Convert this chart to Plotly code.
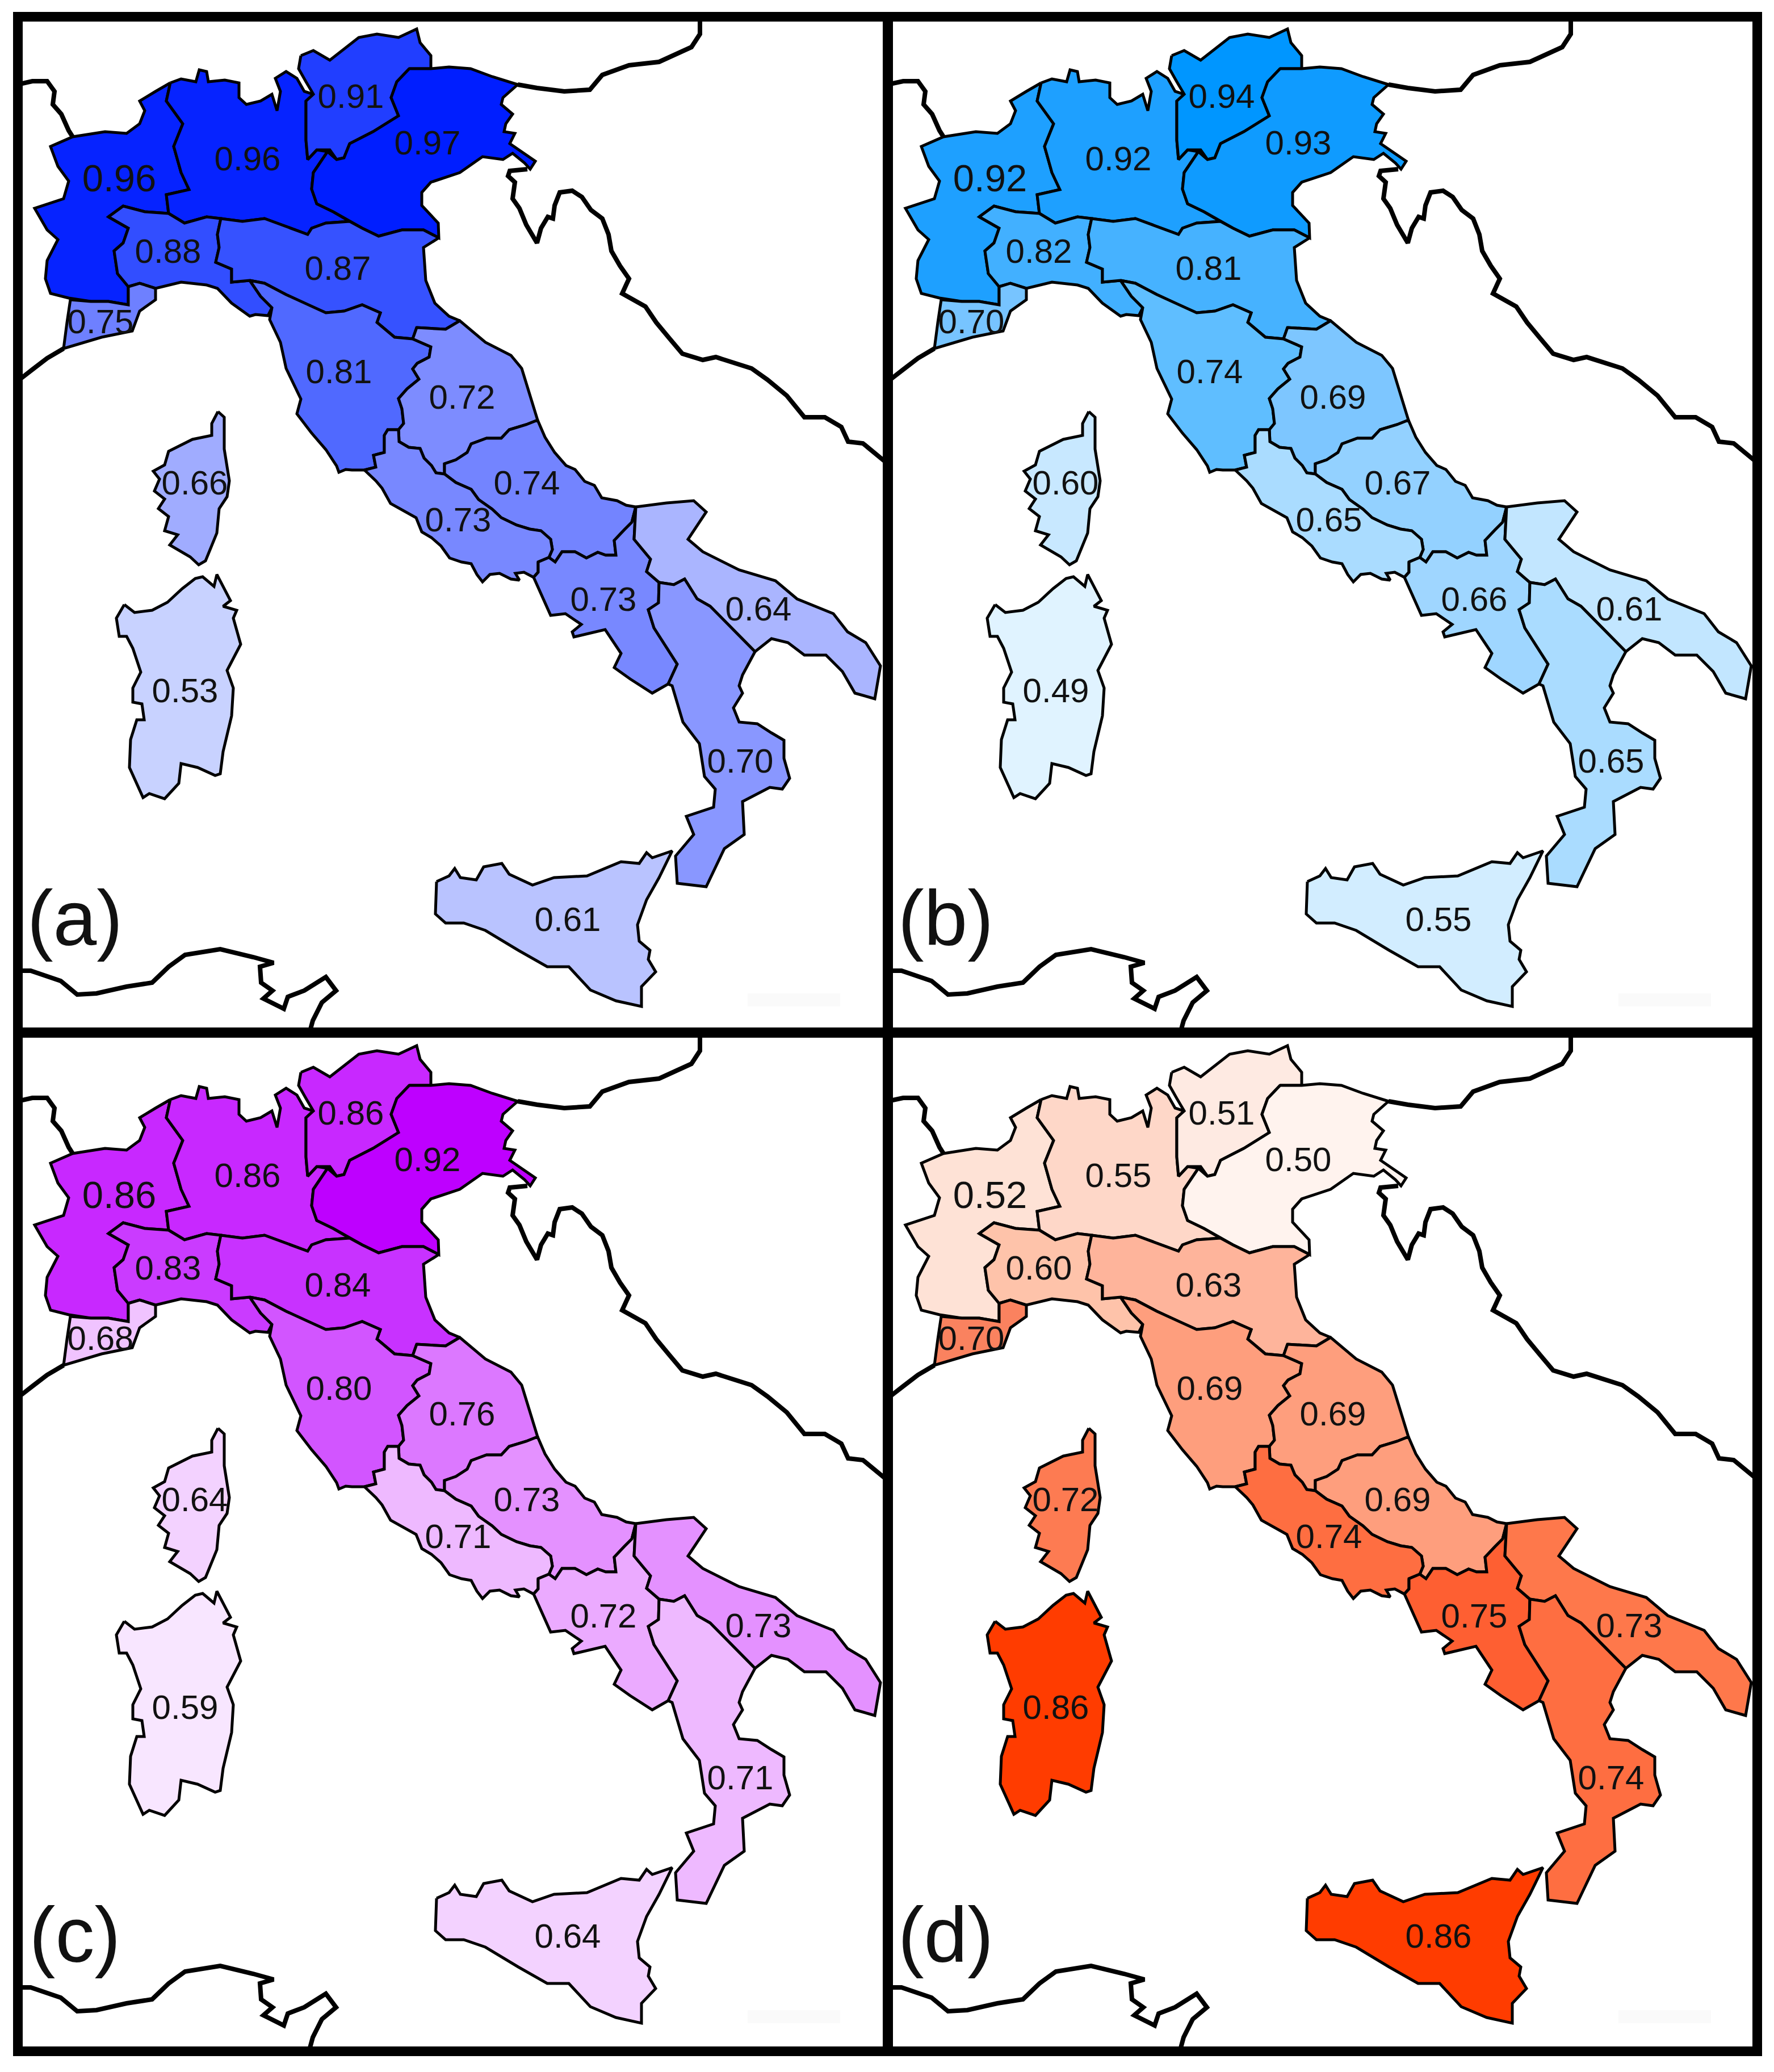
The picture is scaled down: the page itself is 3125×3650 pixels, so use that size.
"""
Four maps of Italy: regional values per panel, colours follow the value.
"""
from plotly.colors import find_intermediate_color
import plotly.graph_objects as go

WIDTH = 3125
HEIGHT = 3650
PAGE_MARGIN = 8  # browser default margin around the plot

PANELS = ["(a)", "(b)", "(c)", "(d)"]
REGIONS = [
    "Piemonte", "Lombardia", "Trentino", "Veneto", "Toscana N", "Emilia", "Liguria",
    "Toscana", "Marche", "Abruzzo", "Lazio", "Corsica", "Sardegna",
    "Campania", "Puglia", "Calabria", "Sicilia",
]
VALUES_A = [0.96, 0.96, 0.91, 0.97, 0.88, 0.87, 0.75, 0.81, 0.72, 0.74, 0.73, 0.66, 0.53, 0.73, 0.64, 0.70, 0.61]
VALUES_B = [0.92, 0.92, 0.94, 0.93, 0.82, 0.81, 0.70, 0.74, 0.69, 0.67, 0.65, 0.60, 0.49, 0.66, 0.61, 0.65, 0.55]
VALUES_C = [0.86, 0.86, 0.86, 0.92, 0.83, 0.84, 0.68, 0.80, 0.76, 0.73, 0.71, 0.64, 0.59, 0.72, 0.73, 0.71, 0.64]
VALUES_D = [0.52, 0.55, 0.51, 0.50, 0.60, 0.63, 0.70, 0.69, 0.69, 0.69, 0.74, 0.72, 0.86, 0.75, 0.73, 0.74, 0.86]

LABEL_X = [210, 436, 618, 753, 296, 595, 177, 597, 814, 928, 807, 343, 326, 1063, 1336, 1304, 1000]
LABEL_Y = [320, 285, 175, 257, 448, 478, 572, 660, 705, 856, 921, 856, 1222, 1061, 1078, 1346, 1625]
LABEL_SIZE = [67, 60, 60, 60, 60, 60, 60, 60, 60, 60, 60, 60, 60, 60, 60, 60, 60]

# value -> colour
STOPS_A = [(0.53, (200, 210, 255)), (0.61, (185, 195, 255)), (0.66, (160, 172, 255)),
           (0.72, (125, 140, 255)), (0.81, (80, 105, 255)), (0.88, (50, 78, 255)), (0.97, (0, 30, 255))]
STOPS_B = [(0.49, (224, 243, 255)), (0.55, (210, 237, 255)), (0.60, (200, 232, 255)),
           (0.65, (170, 220, 255)), (0.69, (125, 198, 255)), (0.74, (95, 190, 255)),
           (0.81, (70, 178, 255)), (0.92, (30, 160, 255)), (0.94, (0, 150, 255))]
STOPS_C = [(0.59, (248, 230, 255)), (0.64, (243, 210, 255)), (0.68, (240, 195, 255)),
           (0.71, (238, 185, 255)), (0.72, (235, 170, 255)), (0.73, (228, 145, 255)),
           (0.76, (220, 120, 255)), (0.80, (210, 85, 255)), (0.84, (200, 50, 255)),
           (0.86, (200, 40, 255)), (0.92, (190, 0, 255))]
STOPS_D = [(0.50, (255, 243, 238)), (0.52, (254, 226, 214)), (0.55, (254, 215, 200)),
           (0.60, (254, 195, 170)), (0.63, (254, 180, 155)), (0.69, (254, 158, 125)),
           (0.70, (250, 130, 95)), (0.73, (254, 120, 75)), (0.74, (254, 110, 65)),
           (0.75, (254, 95, 50)), (0.86, (255, 60, 0))]

# outlines
PIEMONTE = [(300,146),(293,178),(322,218),(306,258),(319,304),(333,334),(293,343),(297,376),(255,373),(217,363),(191,382),(226,402),(217,428),(201,442),(207,482),(226,505),(226,537),(191,531),(160,531),(121,525),(89,517),(80,491),(83,459),(102,422),(83,405),(61,367),(112,350),(121,319),(102,293),(89,258),(128,241),(185,232),(223,235),(246,218),(255,195),(246,178),(274,161)]
LOMBARDIA = [(300,146),(319,139),(345,144),(351,123),(364,126),(367,144),(396,141),(421,146),(421,172),(434,184),(459,178),(479,166),(488,195),(494,161),(485,138),(504,126),(523,138),(536,161),(552,166),(539,178),(539,247),(542,281),(558,264),(577,267),(552,304),(549,333),(558,359),(587,373),(616,390),(574,393),(549,402),(542,413),(504,399),(466,385),(427,390),(389,385),(364,382),(325,393),(297,376),(293,343),(333,334),(319,304),(306,258),(322,218),(293,178)]
TRENTINO = [(530,98),(552,89),(581,106),(603,89),(632,66),(664,60),(702,66),(734,51),(740,75),(759,98),(759,121),(721,121),(699,144),(689,172),(702,204),(657,232),(616,253),(606,278),(593,281),(581,264),(558,264),(542,281),(539,247),(539,178),(552,166),(539,144),(526,121)]
VENETO = [(721,121),(759,121),(791,118),(829,121),(867,135),(912,149),(886,172),(883,184),(903,201),(891,218),(888,232),(907,235),(898,253),(943,284),(934,298),(924,287),(903,270),(886,281),(850,276),(810,304),(759,321),(743,339),(743,362),(772,393),(773,419),(746,405),(708,405),(667,416),(638,402),(616,390),(587,373),(558,359),(549,333),(552,304),(577,267),(593,281),(606,278),(616,253),(657,232),(702,204),(689,172),(699,144)]
TOSCANA_N = [(191,382),(217,363),(255,373),(297,376),(325,393),(364,382),(389,385),(383,413),(386,436),(380,462),(408,474),(408,497),(440,494),(459,522),(479,542),(472,556),(450,554),(440,557),(408,534),(383,508),(364,502),(319,497),(274,508),(246,499),(226,505),(207,482),(201,442),(217,428),(226,402)]
EMILIA = [(389,385),(427,390),(466,385),(504,399),(542,413),(549,402),(574,393),(616,390),(638,402),(667,416),(708,405),(746,405),(773,419),(746,436),(750,494),(766,534),(791,557),(810,565),(785,580),(734,577),(727,597),(695,594),(664,568),(670,551),(638,537),(606,548),(574,551),(542,537),(504,519),(466,499),(440,494),(408,497),(408,474),(380,462),(386,436),(383,413)]
LIGURIA = [(226,505),(246,499),(274,508),(274,528),(246,548),(233,583),(179,594),(112,614),(118,568),(124,528),(160,531),(191,531),(226,537)]
TOSCANA = [(440,494),(466,499),(504,519),(542,537),(574,551),(606,548),(638,537),(670,551),(664,568),(695,594),(727,597),(759,611),(756,629),(735,640),(727,650),(738,668),(717,685),(702,702),(708,720),(711,746),(702,757),(683,757),(677,767),(677,797),(658,802),(662,823),(642,828),(620,828),(609,827),(597,832),(593,821),(574,792),(549,763),(523,729),(530,703),(504,649),(494,603),(475,563),(479,542),(459,522)]
MARCHE = [(734,577),(785,580),(810,565),(855,603),(900,626),(919,649),(947,740),(927,748),(897,757),(883,772),(857,772),(830,782),(823,797),(803,810),(783,817),(783,835),(768,833),(760,820),(747,807),(740,790),(720,788),(703,778),(702,757),(711,746),(708,720),(702,702),(717,685),(738,668),(727,650),(735,640),(756,629),(759,611),(727,597)]
ABRUZZO = [(947,740),(960,770),(977,797),(997,820),(1013,827),(1030,848),(1047,855),(1060,877),(1087,882),(1103,890),(1120,893),(1113,920),(1100,933),(1082,952),(1085,978),(1067,978),(1053,973),(1033,983),(1013,972),(990,972),(978,990),(967,982),(973,968),(970,950),(953,935),(933,932),(910,925),(883,912),(867,897),(843,880),(830,862),(803,850),(783,835),(783,817),(803,810),(823,797),(830,782),(857,772),(883,772),(897,757),(927,748)]
LAZIO = [(702,757),(703,778),(720,788),(740,790),(747,807),(760,820),(768,833),(783,835),(803,850),(830,862),(843,880),(867,897),(883,912),(910,925),(933,932),(953,935),(970,950),(973,968),(967,982),(948,990),(948,1008),(940,1017),(923,1008),(908,1010),(915,1022),(900,1020),(880,1010),(863,1012),(850,1025),(840,1012),(830,993),(813,990),(792,983),(777,962),(760,947),(743,937),(733,912),(707,898),(688,887),(673,860),(662,847),(642,828),(662,823),(658,802),(677,797),(677,767),(683,757)]
CORSICA = [(384,725),(395,735),(395,770),(395,791),(404,847),(400,875),(386,896),(382,939),(362,988),(350,995),(335,981),(299,960),(313,942),(290,935),(297,910),(279,896),(290,879),(272,865),(281,844),(270,830),(290,819),(297,795),(339,774),(373,767),(373,746)]
SARDEGNA = [(219,1065),(237,1079),(268,1075),(295,1061),(321,1037),(344,1019),(357,1016),(377,1033),(382,1012),(393,1033),(406,1058),(393,1068),(417,1075),(411,1089),(424,1135),(400,1181),(411,1212),(408,1261),(393,1324),(388,1363),(379,1366),(348,1352),(319,1345),(315,1380),(290,1407),(263,1398),(252,1405),(228,1352),(230,1303),(241,1268),(254,1268),(250,1240),(234,1237),(234,1212),(248,1184),(234,1142),(223,1121),(210,1121),(205,1089)]
CAMPANIA = [(948,990),(967,982),(978,990),(990,972),(1013,972),(1033,983),(1053,973),(1067,978),(1085,978),(1082,952),(1100,933),(1113,920),(1120,893),(1117,950),(1146,985),(1139,1007),(1161,1026),(1160,1062),(1142,1074),(1152,1106),(1193,1170),(1177,1205),(1149,1221),(1110,1196),(1082,1176),(1094,1151),(1066,1109),(1011,1122),(1008,1113),(1024,1100),(996,1081),(970,1084),(940,1017),(948,1008)]
PUGLIA = [(1120,893),(1174,886),(1222,882),(1244,902),(1212,950),(1238,972),(1302,1004),(1366,1023),(1404,1055),(1468,1081),(1493,1113),(1525,1132),(1551,1173),(1541,1231),(1506,1221),(1484,1183),(1455,1154),(1417,1154),(1388,1132),(1359,1125),(1330,1148),(1283,1100),(1251,1068),(1228,1055),(1206,1020),(1187,1030),(1161,1026),(1139,1007),(1146,985),(1117,950)]
CALABRIA = [(1161,1026),(1187,1030),(1206,1020),(1228,1055),(1251,1068),(1283,1100),(1330,1148),(1308,1189),(1302,1208),(1308,1221),(1292,1247),(1302,1272),(1334,1275),(1359,1291),(1381,1304),(1381,1336),(1391,1371),(1378,1390),(1356,1387),(1308,1412),(1311,1470),(1276,1495),(1244,1562),(1193,1556),(1190,1508),(1222,1470),(1209,1438),(1257,1422),(1260,1390),(1241,1368),(1232,1310),(1203,1272),(1184,1208),(1177,1205),(1193,1170),(1152,1106),(1142,1074),(1160,1062)]
SICILIA = [(769,1553),(791,1543),(801,1530),(811,1546),(839,1550),(852,1527),(884,1521),(897,1540),(938,1559),(976,1546),(1034,1543),(1094,1518),(1126,1521),(1139,1502),(1149,1511),(1184,1499),(1161,1546),(1139,1585),(1123,1629),(1126,1658),(1145,1674),(1142,1690),(1155,1712),(1130,1738),(1130,1773),(1085,1763),(1040,1744),(1002,1703),(964,1703),(913,1674),(855,1639),(817,1626),(785,1626),(767,1610)]
OUTLINES = [PIEMONTE, LOMBARDIA, TRENTINO, VENETO, TOSCANA_N, EMILIA, LIGURIA, TOSCANA, MARCHE, ABRUZZO, LAZIO, CORSICA, SARDEGNA, CAMPANIA, PUGLIA, CALABRIA, SICILIA]

# neighbouring coasts, drawn heavier
COAST_FRANCE = [(30,149),(57,143),(83,143),(96,161),(93,184),(108,201),(121,230),(128,241)]
COAST_RIVIERA = [(112,614),(83,631),(57,651),(30,672)]
COAST_AUSTRIA = [(912,149),(946,155),(994,161),(1039,158),(1061,132),(1108,115),(1161,109),(1218,83),(1233,60),(1233,30)]
COAST_BALKANS = [(929,298),(898,301),(895,310),(907,321),(903,350),(915,367),(927,396),(946,428),(953,402),(965,382),(974,385),(977,362),(986,339),(1008,336),(1025,347),(1041,370),(1061,385),(1072,413),(1077,442),(1092,468),(1108,491),(1096,517),(1137,540),(1156,568),(1180,597),(1202,623),(1238,634),(1261,629),(1324,649),(1352,669),(1386,697),(1417,735),(1453,735),(1482,752),(1494,778),(1520,781),(1565,818)]
COAST_AFRICA = [(30,1710),(54,1710),(107,1728),(136,1752),(170,1750),(223,1738),(268,1731),(297,1703),(326,1682),(388,1672),(446,1686),(482,1696),(458,1703),(460,1731),(480,1745),(464,1759),(500,1777),(507,1756),(536,1745),(574,1721),(592,1745),(567,1766),(551,1798),(545,1820)]
COASTS = [COAST_FRANCE, COAST_RIVIERA, COAST_AUSTRIA, COAST_BALKANS, COAST_AFRICA]

FONT = "Liberation Sans, Arial, sans-serif"


def value_color(value, stops):
    for (v0, c0), (v1, c1) in zip(stops, stops[1:]):
        if value <= v1:
            r, g, b = find_intermediate_color(c0, c1, (value - v0) / (v1 - v0), colortype="tuple")
            return f"rgb({r:.0f},{g:.0f},{b:.0f})"
    return f"rgb{stops[-1][1]}"


def add_panel(fig, index, values, stops, px_x, px_y):
    """px_x/px_y: inner frame of the panel in picture pixels, offset moves the map into it."""
    suffix = "" if index == 0 else str(index + 1)
    dx = 0 if index % 2 == 0 else 1534
    dy = 0 if index < 2 else 1791
    ref = dict(xaxis="x" + suffix, yaxis="y" + suffix)

    for coast in COASTS:
        fig.add_trace(go.Scatter(
            x=[p[0] for p in coast], y=[p[1] for p in coast], mode="lines",
            line=dict(color="black", width=8), hoverinfo="skip", **ref,
        ))
    for outline, value in zip(OUTLINES, values):
        closed = outline + outline[:1]
        fig.add_trace(go.Scatter(
            x=[p[0] for p in closed], y=[p[1] for p in closed], mode="lines",
            fill="toself", fillcolor=value_color(value, stops),
            line=dict(color="black", width=5), hoverinfo="skip", **ref,
        ))
    fig.add_trace(go.Scatter(
        x=LABEL_X, y=LABEL_Y, mode="text", text=[f"{v:.2f}" for v in values],
        textposition="middle center",
        textfont=dict(family=FONT, size=LABEL_SIZE, color="#111111"),
        hoverinfo="skip", **ref,
    ))
    fig.add_trace(go.Scatter(
        x=[132], y=[1630], mode="text", text=[PANELS[index]],
        textposition="middle center",
        textfont=dict(family=FONT, size=138, color="#111111"),
        hoverinfo="skip", **ref,
    ))
    # faint smudge bottom right of every panel
    fig.add_shape(
        type="rect", xref="x" + suffix, yref="y" + suffix,
        x0=1317, x1=1480, y0=1750, y1=1773,
        fillcolor="#fafafa", line_width=0, layer="below",
    )
    axis = dict(showgrid=False, zeroline=False, showticklabels=False, ticks="",
                showline=True, mirror=True, linecolor="black", linewidth=17)
    fig.update_layout({
        "xaxis" + suffix: dict(axis, anchor="y" + suffix,
                               domain=[(px_x[0] - PAGE_MARGIN) / WIDTH, (px_x[1] - PAGE_MARGIN) / WIDTH],
                               range=[px_x[0] - dx, px_x[1] - dx]),
        "yaxis" + suffix: dict(axis, anchor="x" + suffix,
                               domain=[1 - (px_y[1] - PAGE_MARGIN) / HEIGHT, 1 - (px_y[0] - PAGE_MARGIN) / HEIGHT],
                               range=[px_y[1] - dy, px_y[0] - dy]),
    })


fig = go.Figure()
add_panel(fig, 0, VALUES_A, STOPS_A, (40, 1556), (38, 1811))
add_panel(fig, 1, VALUES_B, STOPS_B, (1572, 3087), (38, 1811))
add_panel(fig, 2, VALUES_C, STOPS_C, (40, 1556), (1827, 3605))
add_panel(fig, 3, VALUES_D, STOPS_D, (1572, 3087), (1827, 3605))

fig.update_layout(
    width=WIDTH,
    height=HEIGHT,
    margin=dict(l=0, r=0, t=0, b=0),
    paper_bgcolor="white",
    plot_bgcolor="white",
    showlegend=False,
)
fig.write_html("out.html")
